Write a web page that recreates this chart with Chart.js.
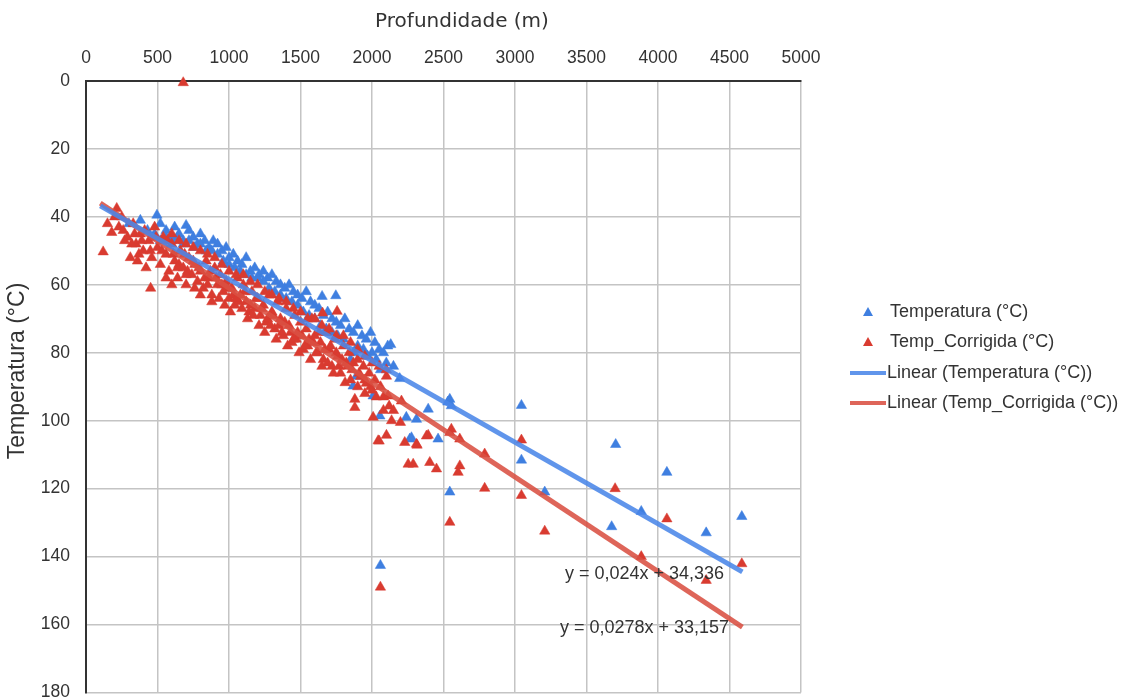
<!DOCTYPE html>
<html>
<head>
<meta charset="utf-8">
<script src="https://cdn.jsdelivr.net/npm/chart.js@4.4.1/dist/chart.umd.min.js"></script>
<style>
  html, body { margin: 0; padding: 0; background: #fff; }
</style>
</head>
<body>
<canvas id="grafico" width="1129" height="699"></canvas>
<script>
// profundidade (m) e temperatura medida (°C)
const tempDepth = [300, 380, 430, 470, 496, 520, 560, 590, 620, 650, 680, 700, 720, 750, 780, 800, 830, 860, 890, 920,
  950, 980, 1000, 1030, 1060, 1090, 1120, 1150, 1180, 1210, 1240, 1270, 1300, 1330, 1360, 1390, 1420, 1450, 1480, 1510,
  1540, 1570, 1600, 1630, 1651, 1747, 1660, 1690, 1720, 1750, 1780, 1810, 1840, 1870, 1900, 1930, 1960, 1990, 2020, 2050,
  2080, 2110, 2131, 2194, 2150, 2100, 2060, 2030, 2000, 1970, 1940, 1900, 1870, 1850, 1800, 1760, 1720, 1680, 1640, 1600,
  1560, 1520, 1480, 1440, 1400, 1360, 1320, 1280, 1240, 1200, 1160, 1120, 1080, 1040, 1000, 960, 920, 880, 840, 800,
  760, 720, 680, 640, 600, 560, 520, 480,
  1891, 1868, 2008, 2055, 2240, 2311, 2393, 2264, 2276, 2462, 2530, 2544, 2555, 2544, 2059, 3045, 3045, 3208, 3676, 3704,
  3883, 4062, 4337, 4586]
const tempValues = [42, 41, 44, 46, 39.5, 42, 44, 46, 43, 45, 47, 42.5, 44, 46, 48, 45, 47, 49, 47, 48,
  50, 49, 52, 51, 53, 54, 52, 56, 55, 57, 56, 58, 57, 59, 60, 61, 60, 62, 63, 64,
  62, 65, 66, 67, 63.4, 63.2, 69, 68, 70, 71, 72, 70, 73, 74, 72, 75, 76, 74, 77, 79,
  80, 78, 77.6, 87.6, 84, 83, 85, 82, 80, 81, 79, 78, 80, 82, 76, 75, 74, 73, 72, 70,
  69, 68, 66, 65, 64, 63, 62, 61, 59, 58, 58, 57, 56, 55, 54, 53, 51, 50, 50, 48,
  49, 47, 48, 46, 47, 46, 47, 45,
  86.9, 89.8, 92.7, 98.6, 99, 99.6, 96.6, 105.4, 105, 105.4, 94.5, 93.7, 95.6, 121, 142.6, 95.5, 111.6, 121, 131.2, 107,
  126.7, 115.2, 133, 128.2]

// profundidade (m) e temperatura corrigida (°C)
const corrDepth = [680, 120, 180, 215, 452, 250, 270, 290, 310, 330, 340, 350, 360, 370, 380, 400, 410, 420, 440, 450,
  460, 480, 490, 500, 520, 530, 540, 560, 570, 580, 600, 610, 620, 640, 650, 660, 680, 690, 700, 710,
  720, 740, 750, 760, 780, 790, 800, 820, 830, 840, 860, 870, 880, 900, 910, 920, 940, 950, 960, 980,
  990, 1000, 1020, 1030, 1040, 1060, 1070, 1080, 1100, 1110, 1120, 1140, 1150, 1160, 1180, 1190, 1200, 1220, 1230, 1240,
  1260, 1270, 1280, 1300, 1310, 1320, 1340, 1350, 1360, 1380, 1390, 1400, 1420, 1430, 1440, 1460, 1470, 1480, 1500, 1510,
  1520, 1540, 1550, 1560, 1580, 1590, 1600, 1620, 1630, 1640, 1654, 1660, 1670, 1680, 1700, 1710, 1720, 1740, 1750, 1756,
  1760, 1780, 1790, 1800, 1812, 1820, 1830, 1840, 1860, 1870, 1880, 1880, 1900, 1910, 1920, 1940, 1950, 1960, 1980, 1990,
  2000, 2008, 2020, 2043, 2050, 2060, 2080, 2101, 2101, 2112, 2120, 2137, 2150, 2199, 2206, 2229, 2253, 2288, 2311, 2315,
  2381, 2393, 2404, 2451, 2544, 2555, 2544, 2602, 2614, 2614, 2788, 2788, 3045, 3045, 3208, 3700, 3883, 4062, 4337, 4586,
  2059,
  560, 600, 640, 700, 760, 800, 850, 880, 930, 970, 1010, 1050, 1090, 1130, 1170, 1210, 1250, 1290, 1330, 1370,
  1410, 1450, 1490, 1530, 1570, 1610, 1650, 1690, 1730, 1770, 1850, 1900, 1950, 2030, 2080,
  600, 700, 800, 900, 1000, 1100, 1200, 1300, 1400, 1500, 1600, 1700, 1800, 1900, 2000, 2100,
  650, 750, 850, 950, 1050, 1150, 1250, 1350, 1450, 1550, 1650, 1750, 1850, 1950, 2050,
  150, 200, 230, 260, 320, 390]
const corrValues = [0.5, 50.3, 44.6, 37.5, 61, 40, 47, 46, 52, 42, 45, 48, 53, 51, 45, 50, 44, 55, 47, 50,
  52, 43, 46, 49, 54, 50, 46, 51, 47, 56, 48, 51, 53, 58, 54, 50, 55, 51, 60, 56,
  52, 57, 53, 54, 59, 55, 56, 61, 58, 53, 58, 56, 63, 55, 58, 60, 57, 60, 62, 59,
  61, 64, 61, 63, 66, 58, 65, 63, 60, 62, 65, 68, 66, 62, 67, 64, 64, 69, 67, 66,
  71, 70, 63, 68, 69, 73, 65, 72, 70, 75, 71, 67, 72, 74, 77, 69, 76, 74, 71, 75,
  79, 73, 78, 76, 70, 77, 75, 80, 74, 77, 68.3, 82, 79, 74, 79, 78, 84, 76, 80, 67.8,
  81, 86, 82, 78, 88.8, 83, 84, 80, 85, 83, 93.7, 96.1, 82, 86, 87, 84, 88, 89, 86, 90,
  91, 99, 88, 105.9, 106, 90, 93, 86.9, 104.3, 92.7, 95.7, 100, 97, 100.5, 94.2, 106.4, 112.8, 112.8, 106.9, 107.2,
  104.5, 104.3, 112.3, 114.2, 103.5, 102.5, 129.9, 115.2, 113.3, 105.4, 109.8, 119.9, 105.7, 122, 132.5, 120, 140, 128.9, 147, 142.1,
  149,
  58, 60, 55, 57, 61, 63, 60, 65, 64, 66, 68, 64, 67, 70, 69, 72, 74, 72, 76, 74,
  78, 76, 80, 78, 82, 80, 84, 83, 86, 84, 88, 90, 92, 93, 97,
  45, 48, 50, 52, 56, 57, 60, 63, 65, 68, 70, 73, 75, 79, 83, 85,
  47, 49, 51, 54, 57, 59, 62, 64, 67, 70, 72, 75, 77, 81, 84,
  42, 40, 43, 44, 48, 47]

// linhas de tendência (y = a·x + b)
const trendSlopes = [0.024, 0.0278]
const trendIntercepts = [34.336, 33.157]
const trendRange = [100, 4590]
const trendLabels = ['y = 0,024x + 34,336', 'y = 0,0278x + 33,157']

const seriesNames = ['Temperatura (°C)', 'Temp_Corrigida (°C)',
  'Linear (Temperatura (°C))', 'Linear (Temp_Corrigida (°C))']
const axisTitles = ['Profundidade (m)', 'Temperatura (°C)']

const azul = '#3f7fe0'
const vermelho = '#d93b30'
const azulLinha = 'rgba(74, 134, 232, 0.88)'
const vermelhoLinha = 'rgba(217, 80, 66, 0.88)'

const pontos = (xs, ys) => xs.map((x, i) => ({ x: x, y: ys[i] }))
const tendencia = i => trendRange.map(x => ({ x: x, y: trendSlopes[i] * x + trendIntercepts[i] }))

// títulos dos eixos e legenda à direita
const legendaLateral = {
  id: 'legendaLateral',
  afterDraw(chart) {
    const ctx = chart.ctx
    const linhas = [312, 342, 373, 403]
    ctx.save()
    ctx.fillStyle = '#333'
    ctx.textAlign = 'center'
    ctx.textBaseline = 'middle'
    ctx.font = '20px "DejaVu Sans", sans-serif'
    ctx.fillText(axisTitles[0], 462, 22)
    ctx.save()
    ctx.translate(18, 371)
    ctx.rotate(-Math.PI / 2)
    ctx.font = '23px "Liberation Sans", Arial, sans-serif'
    ctx.fillText(axisTitles[1], 0, 0)
    ctx.restore()

    ctx.textAlign = 'left'
    ctx.font = '18px "Liberation Sans", Arial, sans-serif'
    chart.data.datasets.forEach((ds, i) => {
      const y = linhas[i]
      if (ds.showLine) {
        ctx.strokeStyle = ds.borderColor
        ctx.lineWidth = 4
        ctx.beginPath()
        ctx.moveTo(850, y)
        ctx.lineTo(886, y)
        ctx.stroke()
        ctx.fillStyle = '#333'
        ctx.fillText(ds.label, 887, y)
      } else {
        ctx.fillStyle = ds.pointBackgroundColor
        ctx.beginPath()
        ctx.moveTo(868, y - 5)
        ctx.lineTo(873, y + 4)
        ctx.lineTo(863, y + 4)
        ctx.closePath()
        ctx.fill()
        ctx.fillStyle = '#333'
        ctx.fillText(ds.label, 890, y)
      }
    })
    ctx.restore()
  }
}

// equações das retas de tendência
const equacoes = {
  id: 'equacoes',
  afterDatasetsDraw(chart) {
    const ctx = chart.ctx
    const sx = chart.scales.x
    const sy = chart.scales.y
    const posicoes = [[3906, 145], [3906, 160.9]]
    ctx.save()
    ctx.font = '18px "Liberation Sans", Arial, sans-serif'
    ctx.fillStyle = '#333'
    ctx.textAlign = 'center'
    ctx.textBaseline = 'middle'
    trendLabels.forEach((t, i) => {
      ctx.fillText(t, sx.getPixelForValue(posicoes[i][0]), sy.getPixelForValue(posicoes[i][1]))
    })
    ctx.restore()
  }
}

const fonteTicks = { family: '"Liberation Sans", Arial, sans-serif', size: 17.5 }

new Chart(document.getElementById('grafico').getContext('2d'), {
  type: 'scatter',
  data: {
    datasets: [
      {
        label: seriesNames[0],
        data: pontos(tempDepth, tempValues),
        pointStyle: 'triangle',
        pointRadius: 6,
        pointBackgroundColor: azul,
        pointBorderColor: azul,
        pointBorderWidth: 0.5,
        clip: 8,
        order: 3
      },
      {
        label: seriesNames[1],
        data: pontos(corrDepth, corrValues),
        pointStyle: 'triangle',
        pointRadius: 6,
        pointBackgroundColor: vermelho,
        pointBorderColor: vermelho,
        pointBorderWidth: 0.5,
        clip: 8,
        order: 2
      },
      {
        label: seriesNames[2],
        data: tendencia(0),
        showLine: true,
        pointRadius: 0,
        borderColor: azulLinha,
        borderWidth: 5,
        order: 0
      },
      {
        label: seriesNames[3],
        data: tendencia(1),
        showLine: true,
        pointRadius: 0,
        borderColor: vermelhoLinha,
        borderWidth: 5,
        order: 1
      }
    ]
  },
  options: {
    responsive: false,
    animation: false,
    layout: { padding: { top: 0, right: 328, bottom: 5, left: 0 } },
    plugins: {
      legend: { display: false },
      tooltip: { enabled: false }
    },
    scales: {
      x: {
        type: 'linear',
        position: 'top',
        min: 0,
        max: 5000,
        ticks: { stepSize: 500, color: '#333', font: fonteTicks, padding: 12, callback: v => String(v) },
        grid: { color: '#c4c4c4', lineWidth: 1.5, drawTicks: false },
        border: { color: '#333', width: 2 },
        afterFit: s => { s.height = 81 }
      },
      y: {
        type: 'linear',
        reverse: true,
        min: 0,
        max: 180,
        ticks: { stepSize: 20, color: '#333', font: fonteTicks, padding: 16, callback: v => String(v) },
        grid: { color: '#c4c4c4', lineWidth: 1.5, drawTicks: false },
        border: { color: '#333', width: 2 },
        afterFit: s => { s.width = 86; s.paddingTop = 0; s.paddingBottom = 0 }
      }
    }
  },
  plugins: [legendaLateral, equacoes]
})
</script>
</body>
</html>
